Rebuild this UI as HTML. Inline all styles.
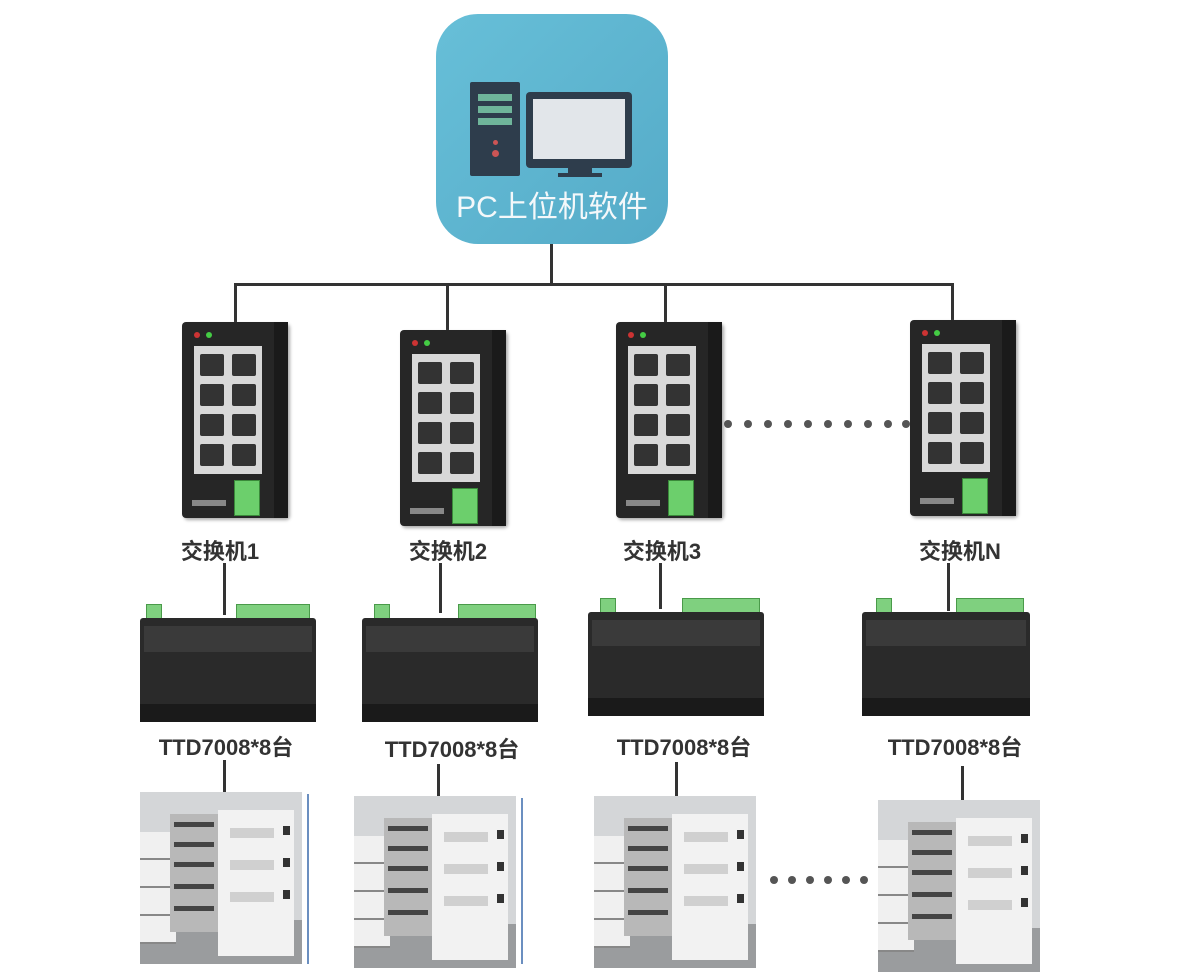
<!DOCTYPE html>
<html><head><meta charset="utf-8"><style>
body{margin:0;width:1184px;height:964px;background:#fff;position:relative;overflow:hidden;font-family:"Liberation Sans","Noto Sans CJK SC",sans-serif}
.a{position:absolute}
.ln{position:absolute;background:#333}
.lbl{position:absolute;font-weight:bold;font-size:22px;color:#333;white-space:nowrap;transform:translateX(-50%)}
.sw{position:absolute;width:106px;height:196px;background:#262626;border-radius:4px;box-shadow:2px 2px 3px #aaa}
.sw .side{position:absolute;right:0;top:0;width:14px;height:100%;background:#1a1a1a}
.sw .led1,.sw .led2{position:absolute;top:10px;width:6px;height:6px;border-radius:3px}
.sw .led1{left:12px;background:#c33}.sw .led2{left:24px;background:#4c4}
.sw .pan{position:absolute;left:12px;top:24px;width:68px;height:128px;background:#d8d8d8}
.sw .p{position:absolute;width:24px;height:22px;background:#333;border-radius:2px}
.sw .gc{position:absolute;left:52px;top:158px;width:24px;height:34px;background:#6ccf6c;border:1px solid #3a8a3a}
.sw .lg{position:absolute;left:10px;top:178px;width:34px;height:6px;background:#888}
.ct{position:absolute;width:176px;height:118px}
.ct .body{position:absolute;left:0;top:14px;width:100%;height:92px;background:#2a2a2a;border-radius:3px}
.ct .top{position:absolute;left:4px;top:22px;right:4px;height:26px;background:#3a3a3a}
.ct .gt{position:absolute;top:0;height:16px;background:#7fd07f;border:1px solid #4a9a4a}
.ct .feet{position:absolute;left:0;top:100px;width:100%;height:18px;background:#1a1a1a}
.cb{position:absolute;width:162px;height:172px;background:#d4d6d8;overflow:hidden}
.cb .fl{position:absolute;left:0;bottom:0;width:100%;height:44px;background:#9a9c9e}
.cb .dr{position:absolute;left:0;width:36px;height:26px;background:#f0f0f0;border-bottom:2px solid #888}
.cb .in{position:absolute;left:30px;top:22px;width:48px;height:118px;background:#b8b8b8}
.cb .sh{position:absolute;left:34px;width:40px;height:5px;background:#444}
.cb .fr{position:absolute;left:78px;top:18px;width:76px;height:146px;background:#f2f2f2}
.cb .vn{position:absolute;left:90px;width:44px;height:10px;background:#d0d0d0}
.cb .hd{position:absolute;left:143px;width:7px;height:9px;background:#333}
.dot{position:absolute;width:8px;height:8px;border-radius:4px;background:#555}
</style></head><body>

<!-- PC icon -->
<div class="a" style="left:436px;top:14px;width:232px;height:230px;border-radius:42px;background:linear-gradient(135deg,#67bfd8,#55abc8);overflow:hidden">
  <div class="a" style="left:34px;top:68px;width:50px;height:94px;background:#2e3d4c;border-radius:2px"></div>
  <div class="a" style="left:42px;top:80px;width:34px;height:7px;background:#6fb59a"></div>
  <div class="a" style="left:42px;top:92px;width:34px;height:7px;background:#6fb59a"></div>
  <div class="a" style="left:42px;top:104px;width:34px;height:7px;background:#6fb59a"></div>
  <div class="a" style="left:57px;top:126px;width:5px;height:5px;border-radius:3px;background:#c55"></div>
  <div class="a" style="left:56px;top:136px;width:7px;height:7px;border-radius:4px;background:#c55"></div>
  <div class="a" style="left:90px;top:78px;width:106px;height:76px;background:#2e3d4c;border-radius:4px"></div>
  <div class="a" style="left:97px;top:85px;width:92px;height:60px;background:#e2e6ea"></div>
  <div class="a" style="left:132px;top:154px;width:24px;height:6px;background:#2e3d4c"></div>
  <div class="a" style="left:122px;top:159px;width:44px;height:4px;background:#2e3d4c"></div>
  <div class="a" style="left:0;top:176px;width:232px;text-align:center;color:#f4f8fa;font-size:30px;line-height:36px">PC上位机软件</div>
</div>

<!-- bus lines -->
<div class="ln" style="left:550px;top:244px;width:3px;height:41px"></div>
<div class="ln" style="left:234px;top:283px;width:720px;height:3px"></div>
<div class="ln" style="left:234px;top:283px;width:3px;height:42px"></div>
<div class="ln" style="left:446px;top:283px;width:3px;height:50px"></div>
<div class="ln" style="left:664px;top:283px;width:3px;height:42px"></div>
<div class="ln" style="left:951px;top:283px;width:3px;height:40px"></div>

<!-- switches -->
<div class="sw" style="left:182px;top:322px"><div class="side"></div><div class="led1"></div><div class="led2"></div><div class="pan"><div class="p" style="left:6px;top:8px"></div><div class="p" style="left:38px;top:8px"></div><div class="p" style="left:6px;top:38px"></div><div class="p" style="left:38px;top:38px"></div><div class="p" style="left:6px;top:68px"></div><div class="p" style="left:38px;top:68px"></div><div class="p" style="left:6px;top:98px"></div><div class="p" style="left:38px;top:98px"></div></div><div class="gc"></div><div class="lg"></div></div>
<div class="sw" style="left:400px;top:330px"><div class="side"></div><div class="led1"></div><div class="led2"></div><div class="pan"><div class="p" style="left:6px;top:8px"></div><div class="p" style="left:38px;top:8px"></div><div class="p" style="left:6px;top:38px"></div><div class="p" style="left:38px;top:38px"></div><div class="p" style="left:6px;top:68px"></div><div class="p" style="left:38px;top:68px"></div><div class="p" style="left:6px;top:98px"></div><div class="p" style="left:38px;top:98px"></div></div><div class="gc"></div><div class="lg"></div></div>
<div class="sw" style="left:616px;top:322px"><div class="side"></div><div class="led1"></div><div class="led2"></div><div class="pan"><div class="p" style="left:6px;top:8px"></div><div class="p" style="left:38px;top:8px"></div><div class="p" style="left:6px;top:38px"></div><div class="p" style="left:38px;top:38px"></div><div class="p" style="left:6px;top:68px"></div><div class="p" style="left:38px;top:68px"></div><div class="p" style="left:6px;top:98px"></div><div class="p" style="left:38px;top:98px"></div></div><div class="gc"></div><div class="lg"></div></div>
<div class="sw" style="left:910px;top:320px"><div class="side"></div><div class="led1"></div><div class="led2"></div><div class="pan"><div class="p" style="left:6px;top:8px"></div><div class="p" style="left:38px;top:8px"></div><div class="p" style="left:6px;top:38px"></div><div class="p" style="left:38px;top:38px"></div><div class="p" style="left:6px;top:68px"></div><div class="p" style="left:38px;top:68px"></div><div class="p" style="left:6px;top:98px"></div><div class="p" style="left:38px;top:98px"></div></div><div class="gc"></div><div class="lg"></div></div>

<!-- dots between switches -->
<div class="dot" style="left:724px;top:420px"></div><div class="dot" style="left:744px;top:420px"></div><div class="dot" style="left:764px;top:420px"></div><div class="dot" style="left:784px;top:420px"></div><div class="dot" style="left:804px;top:420px"></div><div class="dot" style="left:824px;top:420px"></div><div class="dot" style="left:844px;top:420px"></div><div class="dot" style="left:864px;top:420px"></div><div class="dot" style="left:884px;top:420px"></div><div class="dot" style="left:902px;top:420px"></div>

<!-- switch labels -->
<div class="lbl" style="left:220px;top:534px">交换机1</div>
<div class="lbl" style="left:448px;top:534px">交换机2</div>
<div class="lbl" style="left:662px;top:534px">交换机3</div>
<div class="lbl" style="left:960px;top:534px">交换机N</div>

<div class="ln" style="left:223px;top:563px;width:3px;height:52px"></div>
<div class="ln" style="left:439px;top:563px;width:3px;height:50px"></div>
<div class="ln" style="left:659px;top:563px;width:3px;height:46px"></div>
<div class="ln" style="left:947px;top:563px;width:3px;height:48px"></div>

<!-- controllers -->
<div class="ct" style="left:140px;top:604px"><div class="gt" style="left:6px;width:14px"></div><div class="gt" style="left:96px;width:72px"></div><div class="body"></div><div class="top"></div><div class="feet"></div></div>
<div class="ct" style="left:362px;top:604px"><div class="gt" style="left:12px;width:14px"></div><div class="gt" style="left:96px;width:76px"></div><div class="body"></div><div class="top"></div><div class="feet"></div></div>
<div class="ct" style="left:588px;top:598px"><div class="gt" style="left:12px;width:14px"></div><div class="gt" style="left:94px;width:76px"></div><div class="body"></div><div class="top"></div><div class="feet"></div></div>
<div class="ct" style="left:862px;top:598px;width:168px"><div class="gt" style="left:14px;width:14px"></div><div class="gt" style="left:94px;width:66px"></div><div class="body"></div><div class="top"></div><div class="feet"></div></div>

<!-- controller labels -->
<div class="lbl" style="left:226px;top:730px">TTD7008*8台</div>
<div class="lbl" style="left:452px;top:732px">TTD7008*8台</div>
<div class="lbl" style="left:684px;top:730px">TTD7008*8台</div>
<div class="lbl" style="left:955px;top:730px">TTD7008*8台</div>

<div class="ln" style="left:223px;top:760px;width:3px;height:34px"></div>
<div class="ln" style="left:437px;top:764px;width:3px;height:34px"></div>
<div class="ln" style="left:675px;top:762px;width:3px;height:36px"></div>
<div class="ln" style="left:961px;top:766px;width:3px;height:36px"></div>

<!-- cabinets -->
<div class="cb" style="left:140px;top:792px"><div class="fl"></div><div class="dr" style="top:40px"></div><div class="dr" style="top:68px"></div><div class="dr" style="top:96px"></div><div class="dr" style="top:124px"></div><div class="in"></div><div class="sh" style="top:30px"></div><div class="sh" style="top:50px"></div><div class="sh" style="top:70px"></div><div class="sh" style="top:92px"></div><div class="sh" style="top:114px"></div><div class="fr"></div><div class="vn" style="top:36px"></div><div class="vn" style="top:68px"></div><div class="vn" style="top:100px"></div><div class="hd" style="top:34px"></div><div class="hd" style="top:66px"></div><div class="hd" style="top:98px"></div></div>
<div class="a" style="left:307px;top:794px;width:2px;height:170px;background:#6b8fc0"></div>
<div class="cb" style="left:354px;top:796px"><div class="fl"></div><div class="dr" style="top:40px"></div><div class="dr" style="top:68px"></div><div class="dr" style="top:96px"></div><div class="dr" style="top:124px"></div><div class="in"></div><div class="sh" style="top:30px"></div><div class="sh" style="top:50px"></div><div class="sh" style="top:70px"></div><div class="sh" style="top:92px"></div><div class="sh" style="top:114px"></div><div class="fr"></div><div class="vn" style="top:36px"></div><div class="vn" style="top:68px"></div><div class="vn" style="top:100px"></div><div class="hd" style="top:34px"></div><div class="hd" style="top:66px"></div><div class="hd" style="top:98px"></div></div>
<div class="a" style="left:521px;top:798px;width:2px;height:166px;background:#6b8fc0"></div>
<div class="cb" style="left:594px;top:796px"><div class="fl"></div><div class="dr" style="top:40px"></div><div class="dr" style="top:68px"></div><div class="dr" style="top:96px"></div><div class="dr" style="top:124px"></div><div class="in"></div><div class="sh" style="top:30px"></div><div class="sh" style="top:50px"></div><div class="sh" style="top:70px"></div><div class="sh" style="top:92px"></div><div class="sh" style="top:114px"></div><div class="fr"></div><div class="vn" style="top:36px"></div><div class="vn" style="top:68px"></div><div class="vn" style="top:100px"></div><div class="hd" style="top:34px"></div><div class="hd" style="top:66px"></div><div class="hd" style="top:98px"></div></div>
<div class="cb" style="left:878px;top:800px"><div class="fl"></div><div class="dr" style="top:40px"></div><div class="dr" style="top:68px"></div><div class="dr" style="top:96px"></div><div class="dr" style="top:124px"></div><div class="in"></div><div class="sh" style="top:30px"></div><div class="sh" style="top:50px"></div><div class="sh" style="top:70px"></div><div class="sh" style="top:92px"></div><div class="sh" style="top:114px"></div><div class="fr"></div><div class="vn" style="top:36px"></div><div class="vn" style="top:68px"></div><div class="vn" style="top:100px"></div><div class="hd" style="top:34px"></div><div class="hd" style="top:66px"></div><div class="hd" style="top:98px"></div></div>

<!-- dots between cabinets -->
<div class="dot" style="left:770px;top:876px"></div><div class="dot" style="left:788px;top:876px"></div><div class="dot" style="left:806px;top:876px"></div><div class="dot" style="left:824px;top:876px"></div><div class="dot" style="left:842px;top:876px"></div><div class="dot" style="left:860px;top:876px"></div>

</body></html>
